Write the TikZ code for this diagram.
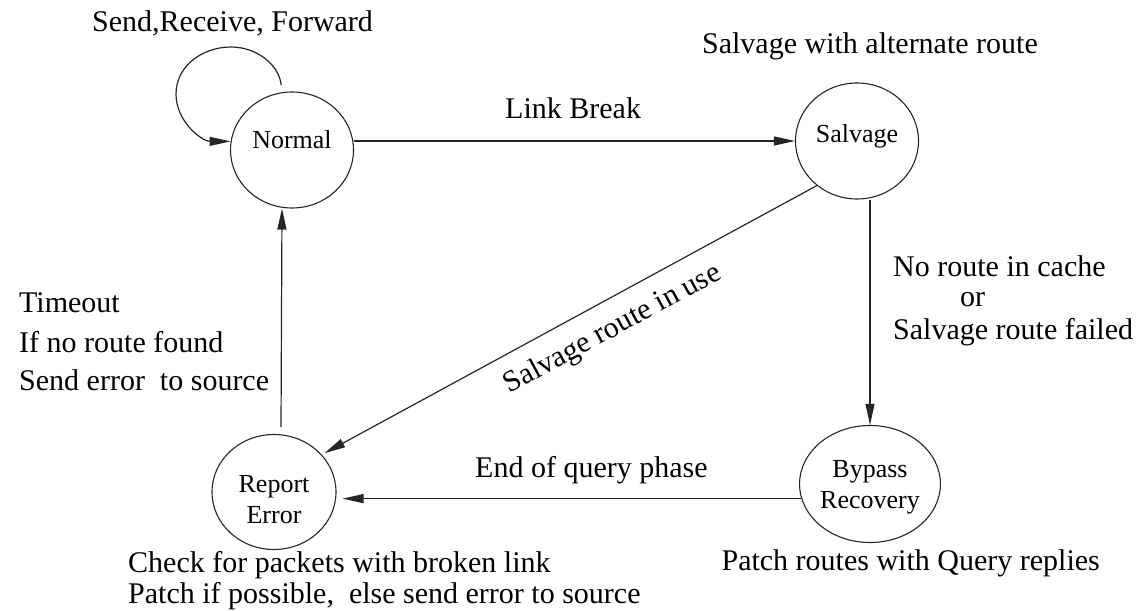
\documentclass[tikz,border=0pt]{standalone}
\usepackage{fontspec}
\setmainfont{Liberation Serif}
\usetikzlibrary{arrows.meta,shapes.geometric,calc}
\begin{document}
\begin{tikzpicture}[x=1pt,y=1pt,
  state/.style={ellipse,draw=black!85,line width=1.1pt,inner sep=0pt,
    minimum width=123pt,minimum height=116pt,
    font=\fontsize{26}{31}\selectfont,align=center},
  lbl/.style={font=\fontsize{30}{36}\selectfont,inner sep=0pt},
  arr/.style={draw=black!85,line width=1.2pt,-{Triangle[length=21pt,width=9pt]}}]
\useasboundingbox (0,0) rectangle (1139,-610);

% states
\node[state,text height=18pt,text depth=22pt] (nor) at (292,-150) {Normal};
\node[state,text height=18pt,text depth=16pt] (sal) at (857,-141) {Salvage};
\node[state,minimum width=124pt,minimum height=115pt,text height=62pt,text depth=0pt] (rep) at (274,-492) {Report\\Error};
\node[state,minimum width=125pt,minimum height=117pt,text height=48pt,text depth=0pt] (byp) at (870,-484) {Bypass\\Recovery};

% self loop
\coordinate (lt) at (231,-47);
\coordinate (ll) at (176,-94);
\draw[arr,shorten <=7pt] (nor.100) to[out=95,in=0] (lt) to[out=180,in=90] (ll) to[out=-90,in=180] (nor.172);

% transitions
\draw[arr] (nor.east |- sal.west) -- (sal.west);
\draw[arr] (sal.south -| byp.north) -- (byp.north);
\draw[arr,shorten >=3pt] (sal.228) -- (rep.38)
  node[lbl,pos=0.44,sloped,below=15pt] {Salvage route in use};
\draw[arr,shorten >=6pt] (byp.192) -- (rep.east |- byp.192);
\draw[arr] ([xshift=7pt,yshift=7pt]rep.north) -- ([xshift=-10pt]nor.south);

% labels
\node[lbl,anchor=base west] (l1) at (92,-32) {Send,Receive, Forward};
\node[lbl,anchor=base west] (l2) at (505,-118) {Link Break};
\node[lbl,anchor=base east] (l3) at (1038,-54) {Salvage with alternate route};
\node[lbl,anchor=base west] (l4) at (893,-276) {No route in cache};
\node[lbl,anchor=base west] (l5) at (960,-306) {or};
\node[lbl,anchor=base west] (l6) at (893,-339) {Salvage route failed};
\node[lbl,anchor=base west] (l7) at (19,-312) {Timeout};
\node[lbl,anchor=base west] (l8) at (19,-352) {If no route found};
\node[lbl,anchor=base west] (l9) at (19,-390) {Send error~ to source};
\node[lbl,anchor=base west] (l10) at (475,-477) {End of query phase};
\node[lbl,anchor=base west] (l11) at (128,-572) {Check for packets with broken link};
\node[lbl,anchor=base west] (l12) at (128,-603) {Patch if possible,~ else send error to source};
\node[lbl,anchor=base east] (l13) at (1100,-570) {Patch routes with Query replies};
\end{tikzpicture}
\end{document}
